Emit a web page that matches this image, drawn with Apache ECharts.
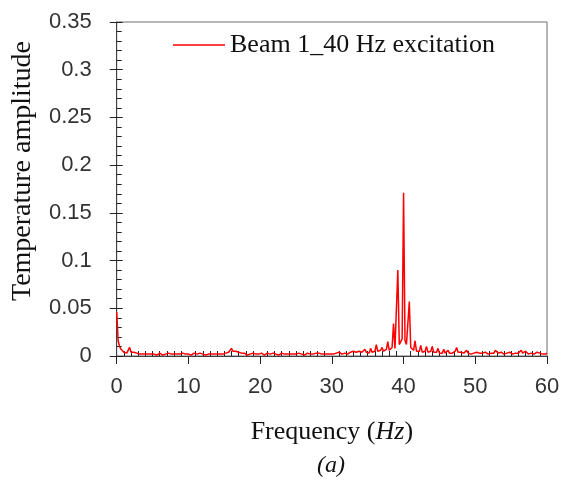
<!DOCTYPE html>
<html>
<head>
<meta charset="utf-8">
<script src="https://cdn.jsdelivr.net/npm/echarts@6/dist/echarts.min.js"></script>
<style>
html,body{margin:0;padding:0;background:#fff;}
#chart{width:574px;height:482px;}
</style>
</head>
<body>
<div id="chart"></div>
<script>
// Frequency grid: spectrum sampled every 0.2 Hz from 0 Hz
const freqStart = 0;
const freqStep = 0.2;

// Temperature amplitude, 0 - 9.8 Hz
const amp00 = [
  .046,.016,.010,.007,.006,.004,.005,.003,.004,.009,
  .004,.003,.004,.002,.003,.004,.002,.003,.002,.004,
  .002,.003,.002,.003,.002,
  .003,.002,.003,.001,.002,.003,.002,.001,.003,.002,
  .002,.003,.001,.002,.003,.002,.001,.002,.003,.002,
  .001,.003,.002,.002,.001
];
// 10 - 19.8 Hz
const amp10 = [
  .002,.003,.001,.002,.003,.002,.002,.001,.003,.002,
  .002,.003,.001,.002,.002,.003,.002,.001,.002,.003,
  .002,.001,.002,.003,.002,
  .002,.003,.003,.004,.006,.008,.005,.004,.005,.003,
  .004,.002,.003,.002,.003,.002,.001,.003,.002,.002,
  .003,.001,.002,.003,.002
];
// 20 - 29.8 Hz
const amp20 = [
  .002,.003,.002,.001,.002,.003,.002,.002,.001,.003,
  .002,.002,.003,.001,.002,.003,.002,.002,.001,.002,
  .003,.002,.001,.002,.003,
  .002,.001,.003,.002,.002,.003,.001,.002,.003,.002,
  .002,.003,.002,.001,.003,.002,.003,.002,.002,.003,
  .002,.003,.002,.003,.002
];
// 30 - 39.8 Hz
const amp30 = [
  .003,.002,.004,.003,.002,.004,.003,.002,.004,.003,
  .005,.002,.003,.004,.003,.005,.003,.004,.003,.005,
  .003,.004,.003,.007,.004,
  .004,.003,.008,.004,.003,.005,.012,.005,.004,.006,
  .009,.005,.004,.007,.015,.006,.005,.009,.034,.008,
  .010,.090,.012,.014,.018
];
// 40 - 49.8 Hz
const amp40 = [
  .171,.016,.012,.010,.057,.009,.007,.006,.016,.005,
  .004,.005,.011,.004,.003,.005,.010,.004,.003,.005,
  .010,.004,.003,.004,.008,
  .003,.004,.003,.007,.003,.004,.006,.003,.004,.003,
  .004,.005,.009,.004,.003,.004,.005,.003,.004,.006,
  .003,.004,.002,.004,.003
];
// 50 - 59.8 Hz
const amp50 = [
  .003,.004,.002,.003,.004,.003,.002,.004,.003,.002,
  .004,.003,.005,.003,.006,.004,.003,.002,.004,.003,
  .002,.004,.003,.002,.004,
  .003,.002,.004,.003,.005,.003,.004,.006,.003,.004,
  .005,.003,.002,.004,.003,.005,.002,.003,.004,.002,
  .003,.004,.002,.003,.002
];
// 60 Hz
const amp60 = [.003];

const seriesName = 'Beam 1_40 Hz excitation';
const xTicks = [0, 10, 20, 30, 40, 50, 60];
const yTicks = [0, 0.05, 0.1, 0.15, 0.2, 0.25, 0.3, 0.35];

const amplitudes = [].concat(amp00, amp10, amp20, amp30, amp40, amp50, amp60);
const seriesData = amplitudes.map((v, i) => [+(freqStart + i * freqStep).toFixed(1), v]);

const serif = '"Liberation Serif", "Times New Roman", serif';
const sans = '"Liberation Sans", Arial, sans-serif';
const axisColor = '#404040';

const chart = echarts.init(document.getElementById('chart'), null, {renderer: 'canvas'});
chart.setOption({
  animation: false,
  backgroundColor: '#fff',
  title: {
    text: '(a)',
    left: 331,
    textAlign: 'center',
    top: 454,
    padding: 0,
    textStyle: {fontFamily: serif, fontStyle: 'italic', fontWeight: 'normal', fontSize: 24, color: '#111'}
  },
  legend: {
    left: 173,
    top: 32,
    padding: 0,
    icon: 'rect',
    itemWidth: 52,
    itemHeight: 1.5,
    itemGap: 5,
    textStyle: {fontFamily: serif, fontSize: 26, color: '#111'},
    data: [seriesName]
  },
  grid: {
    left: 116, right: 27, top: 22, bottom: 126,
    containLabel: false,
    show: true,
    borderColor: '#6e6e6e',
    borderWidth: 1,
    backgroundColor: 'transparent'
  },
  xAxis: [{
    type: 'value',
    position: 'bottom',
    min: xTicks[0], max: xTicks[xTicks.length - 1], interval: 10,
    name: '{n|Frequency (}{i|Hz}{n|)}',
    nameLocation: 'middle',
    nameGap: 61,
    nameTextStyle: {
      rich: {
        n: {fontFamily: serif, fontSize: 26, color: '#111', lineHeight: 30},
        i: {fontFamily: serif, fontSize: 26, fontStyle: 'italic', color: '#111', lineHeight: 30}
      }
    },
    axisLine: {show: true, lineStyle: {color: axisColor, width: 1}},
    axisTick: {show: true, inside: false, length: 8, lineStyle: {color: '#222', width: 1}},
    minorTick: {show: false},
    axisLabel: {show: true, margin: 20, fontFamily: sans, fontSize: 22, color: '#333'},
    splitLine: {show: false}
  }, {
    type: 'value',
    position: 'bottom',
    min: xTicks[0], max: xTicks[xTicks.length - 1], interval: 10,
    axisLine: {show: false},
    axisTick: {show: false, inside: true},
    minorTick: {show: true, splitNumber: 10, length: 5, lineStyle: {color: '#222', width: 1}},
    axisLabel: {show: false},
    splitLine: {show: false}
  }],
  yAxis: [{
    type: 'value',
    position: 'left',
    min: yTicks[0], max: yTicks[yTicks.length - 1], interval: 0.05,
    name: 'Temperature amplitude',
    nameLocation: 'middle',
    nameGap: 66,
    nameTextStyle: {fontFamily: serif, fontSize: 28, color: '#111', lineHeight: 30, padding: [0, 0, 0, 36]},
    axisLine: {show: true, lineStyle: {color: axisColor, width: 1}},
    axisTick: {show: true, inside: true, length: 6, lineStyle: {color: '#222', width: 1}},
    minorTick: {show: true, splitNumber: 5, length: 5, lineStyle: {color: '#222', width: 1}},
    axisLabel: {show: true, margin: 25, fontFamily: sans, fontSize: 22, color: '#333'},
    splitLine: {show: false}
  }, {
    type: 'value',
    position: 'left',
    min: yTicks[0], max: yTicks[yTicks.length - 1], interval: 0.05,
    axisLine: {show: false},
    axisTick: {show: true, inside: false, length: 7, lineStyle: {color: '#222', width: 1}},
    minorTick: {show: false},
    axisLabel: {show: false},
    splitLine: {show: false}
  }],
  series: [{
    name: seriesName,
    type: 'line',
    xAxisIndex: 0,
    yAxisIndex: 0,
    data: seriesData,
    symbol: 'none',
    showSymbol: false,
    lineStyle: {color: '#ff0000', width: 1.5},
    itemStyle: {color: '#ff0000'},
    z: 1
  }]
});
</script>
</body>
</html>
